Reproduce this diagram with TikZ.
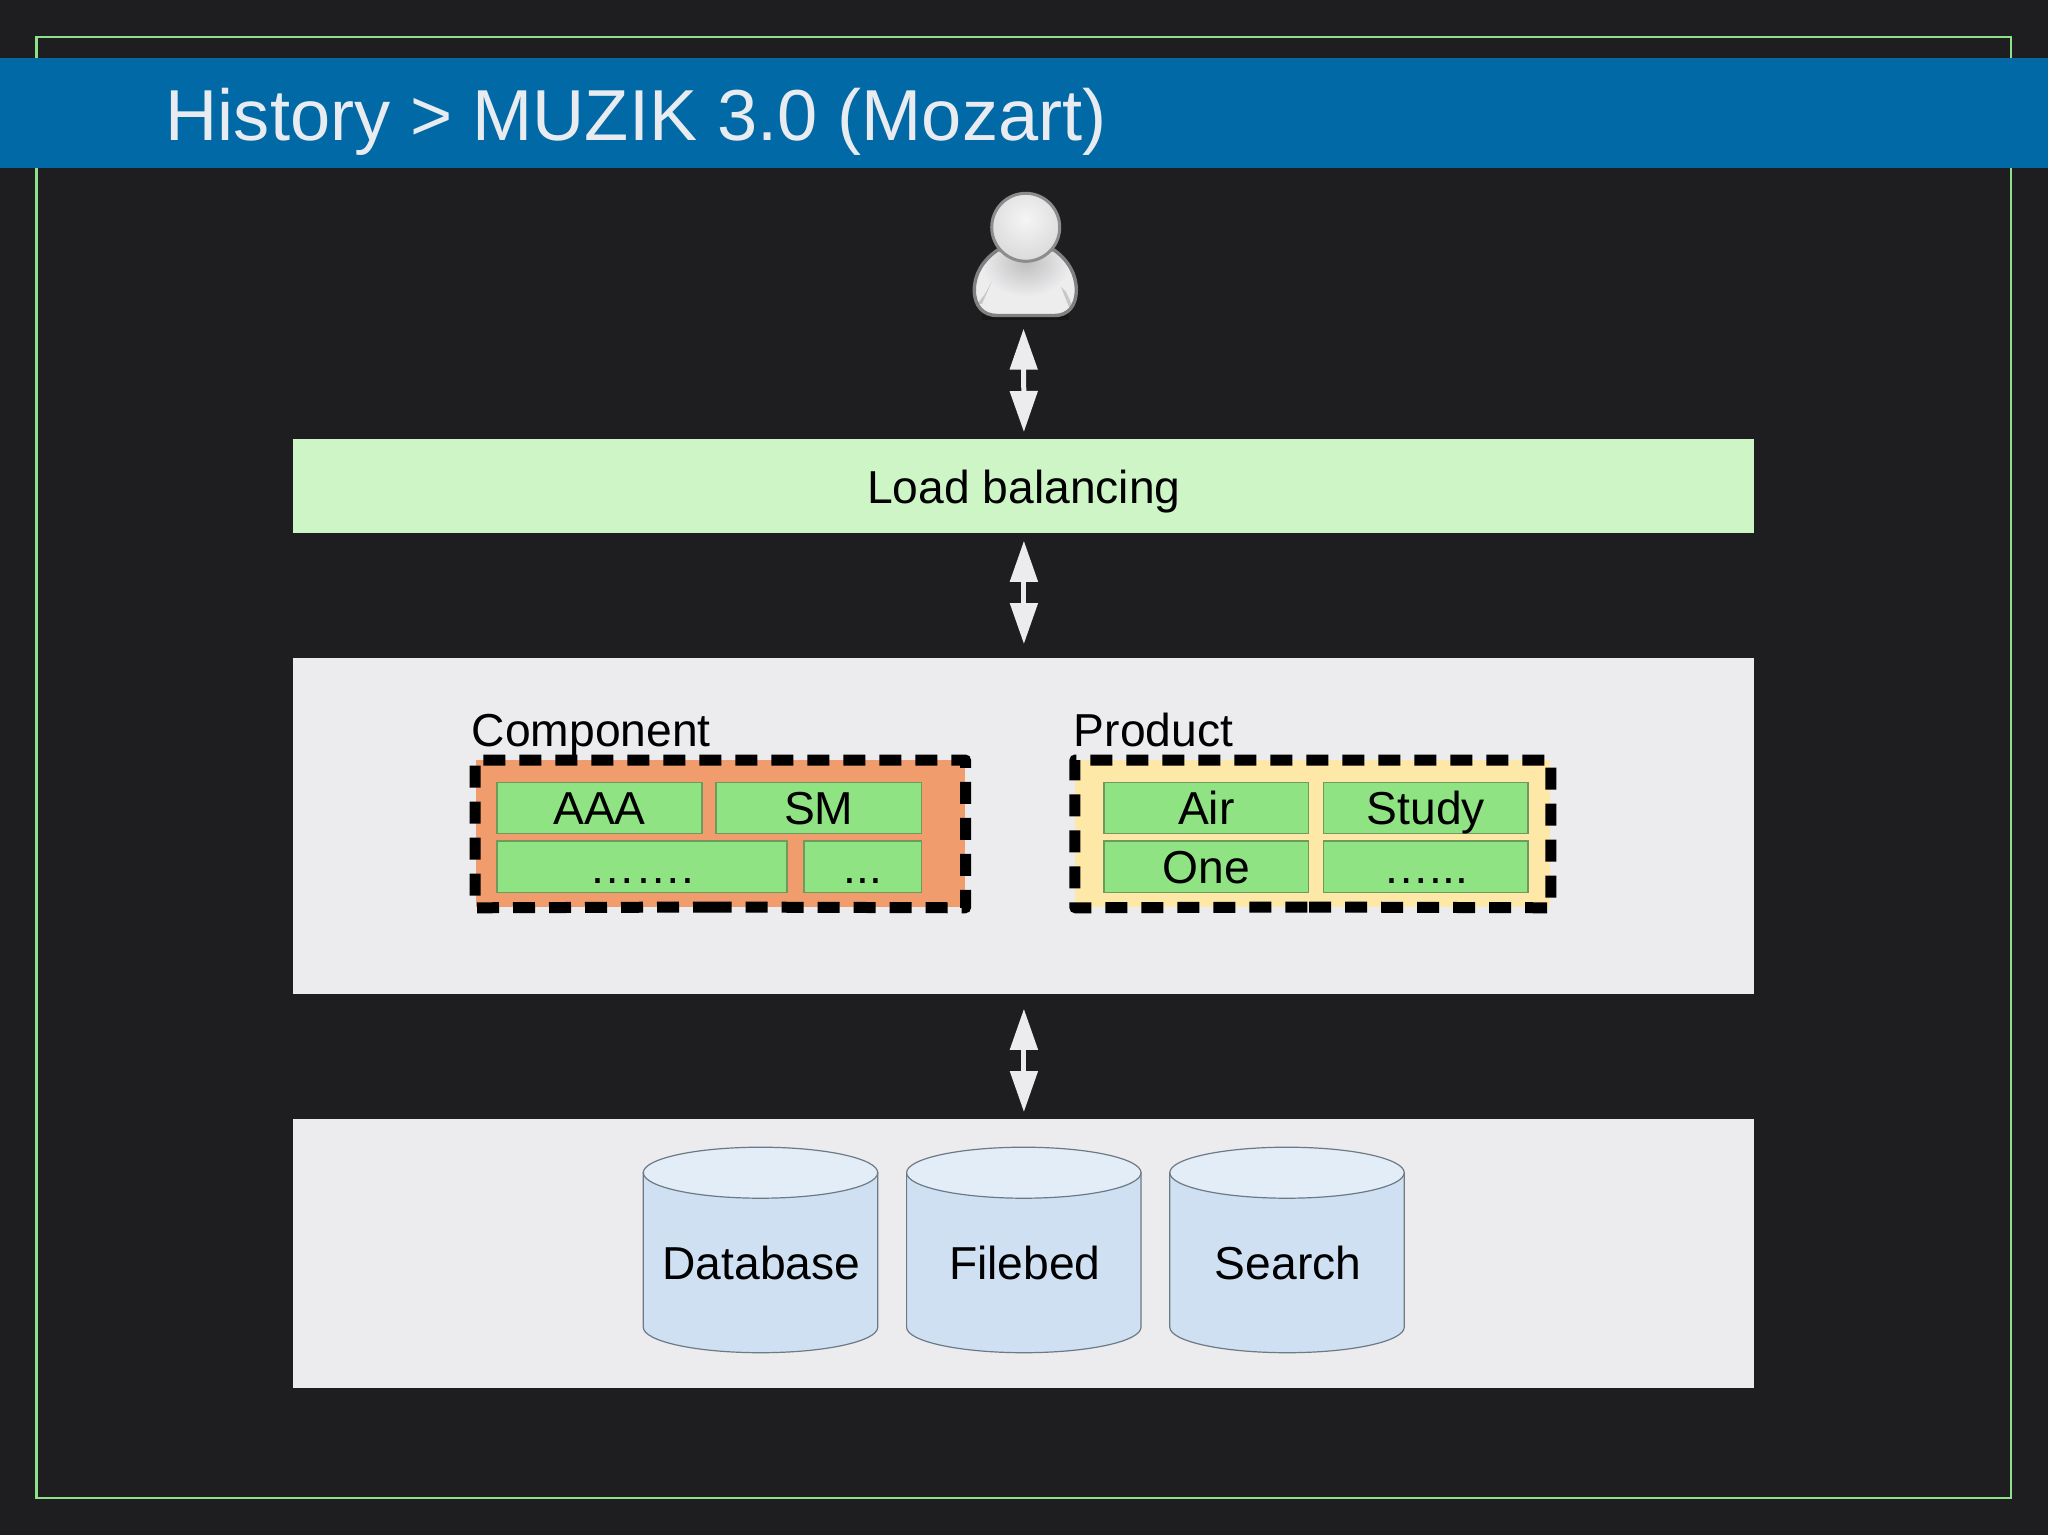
\documentclass[tikz,border=0pt]{standalone}
\usepackage{fontspec}
\setmainfont{Liberation Sans}
\usetikzlibrary{arrows.meta}
\definecolor{bgc}{HTML}{1E1E20}
\definecolor{framec}{HTML}{8FE08A}
\definecolor{headc}{HTML}{0069A6}
\definecolor{titlec}{HTML}{E8EBEF}
\definecolor{panelc}{HTML}{ECEBED}
\definecolor{lbc}{HTML}{CDF5C5}
\definecolor{orangec}{HTML}{F09C6C}
\definecolor{creamc}{HTML}{FDE8A7}
\definecolor{greenc}{HTML}{90E383}
\definecolor{greenl}{HTML}{6E9A5E}
\definecolor{cylb}{HTML}{CEE0F2}
\definecolor{cylt}{HTML}{E3EDF7}
\definecolor{cyll}{HTML}{6C7A86}
\tikzset{
  panel/.style={anchor=north west,fill=#1,inner sep=0pt,minimum width=730.5pt,text=black},
  lbl/.style={anchor=base west,inner sep=0pt,font=\fontsize{23.1pt}{26pt}\selectfont,text=black},
  gbox/.style={fill=greenc,draw=greenl,line width=.75pt,inner sep=0pt,text=black,minimum height=25.7pt,
    font=\fontsize{23.1pt}{26pt}\selectfont,text height=21.25pt,text depth=4.45pt},
  groupbox/.style={anchor=north west,fill=#1,inner sep=0pt},
  dashline/.style={draw=black,line width=5.5pt,dash pattern=on 11pt off 7pt,line join=round},
  link/.style={draw=panelc,line width=2.5pt,{Triangle[length=20.5pt,width=13.5pt]}-{Triangle[length=20.5pt,width=13.5pt]}},
  cylbody/.style={fill=cylb,draw=cyll,line width=.6pt},
  cyltop/.style={fill=cylt,draw=cyll,line width=.6pt},
}
\newcommand{\mycyl}[3]{%
  \path[cylbody] (#2-117.2,1172.7) -- (#2-117.2,1327.2) arc[start angle=180,end angle=360,x radius=117.2,y radius=-25.5] -- (#2+117.2,1172.7) -- cycle;
  \path[cyltop] (#2,1172.7) ellipse[x radius=117.2,y radius=25.5];
  \node[lbl,anchor=base] (#1) at (#2+1,1279) {#3};
}
\begin{document}
\begin{tikzpicture}[x=.5pt,y=-.5pt]
\useasboundingbox (0,0) rectangle (2048,1535);
\fill[bgc] (0,0) rectangle (2048,1535);
% frame and header
\draw[framec,line width=1.4pt] (36.5,37) rectangle (2011,1498);
\node[anchor=north west,fill=headc,inner sep=0pt,minimum width=1024pt,minimum height=55pt] (header) at (0,58) {};
\node[anchor=base west,inner sep=0pt,text=titlec,font=\fontsize{36.1pt}{40pt}\selectfont] (title) at (165.4,140.5) {History > MUZIK 3.0 (Mozart)};
% person
\node[inner sep=0pt,minimum width=52pt,minimum height=42pt,anchor=south] (person) at (1023.5,316.7) {};
\def\bodypath{(997.7,250) .. controls (983,260) and (974.3,274) .. (974.3,290) .. controls (974.3,306) and (983,315.5) .. (997,315.5) -- (1054.7,315.5) .. controls (1068,315.5) and (1076.3,306) .. (1076.3,290) .. controls (1076.3,274) and (1068,260) .. (1054,250) -- cycle}
\fill[black!25!bgc] (982,306) rectangle (1069,320);
\fill[panelc!92!white] \bodypath;
\begin{scope}
  \clip \bodypath;
  \shade[inner color=black!25,outer color=panelc] (1025.7,262) ellipse[x radius=44,y radius=34];
  \fill[black!22] (982,304) -- (992,281) -- (985,294) -- (977,304) -- cycle;
  \fill[black!22] (1069,307) -- (1061,287) -- (1066,292) -- (1073,307) -- cycle;
\end{scope}
\draw[black!50,line width=1.7pt] \bodypath;
\begin{scope}
  \clip (1025.7,227.3) circle[radius=34];
  \shade[inner color=white!96!black,outer color=black!15] (1025.7,219) circle[radius=44];
\end{scope}
\draw[black!45,line width=1.5pt] (1025.7,227.3) circle[radius=34];
% panels
\node[panel=lbc,minimum height=47pt,font=\fontsize{23.1pt}{26pt}\selectfont,text height=32pt,text depth=15pt] (lb) at (293,439) {Load balancing};
\node[panel=panelc,minimum height=168pt] (mid) at (293,658) {};
\node[panel=panelc,minimum height=134.5pt] (store) at (293,1119) {};
% arrows
\draw[link,shorten <=6pt,shorten >=3.5pt] (person.south) -- (lb.north);
\draw[link,shorten <=3.5pt,shorten >=7pt] (lb.south) -- (mid.north);
\draw[link,shorten <=7pt,shorten >=3.5pt] (mid.south) -- (store.north);
% component group
\node[groupbox=orangec,minimum width=244.85pt,minimum height=73.5pt] (comp) at (475.1,760) {};
\coordinate (compstart) at (709.6,907);
\draw[dashline] (compstart) -- (comp.south east) -- (comp.north east) -- (comp.north west) -- (comp.south west) -- cycle;
\node[lbl] (complabel) at (471.5,746) {Component};
\node[gbox,minimum width=102.6pt] (aaa) at (599.4,808) {AAA};
\node[gbox,minimum width=102.6pt] (sm) at (818.8,808) {SM};
\node[gbox,minimum width=145pt] (dotsa) at (641.8,866.7) {…….};
\node[gbox,minimum width=58.7pt] (dotsb) at (862.7,866.7) {...};
% product group
\node[groupbox=creamc,minimum width=237.6pt,minimum height=73.5pt] (prod) at (1074.8,760) {};
\coordinate (prodstart) at (1309,907);
\draw[dashline] (prodstart) -- (prod.south east) -- (prod.north east) -- (prod.north west) -- (prod.south west) -- cycle;
\node[lbl] (prodlabel) at (1073.5,746) {Product};
\node[gbox,minimum width=102.3pt] (air) at (1206.3,808) {Air};
\node[gbox,minimum width=102.4pt] (study) at (1425.8,808) {Study};
\node[gbox,minimum width=102.3pt] (one) at (1206.3,866.7) {One};
\node[gbox,minimum width=102.4pt] (dotsc) at (1425.8,866.7) {…...};
% storage
\mycyl{db}{760.5}{Database}
\mycyl{fb}{1023.8}{Filebed}
\mycyl{search}{1287}{Search}
\end{tikzpicture}
\end{document}
